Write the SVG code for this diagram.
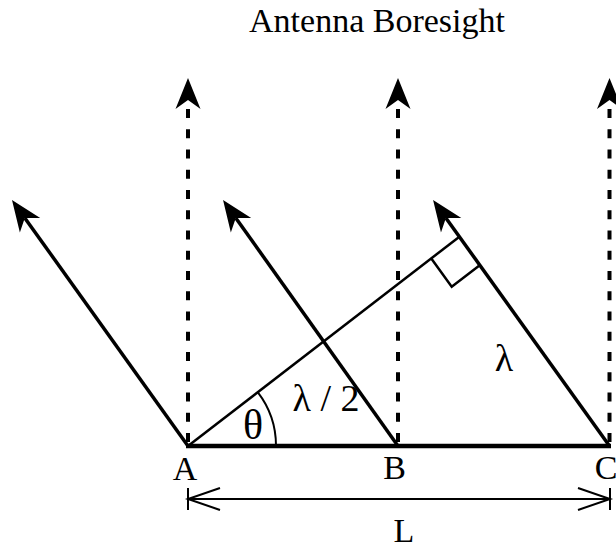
<svg xmlns="http://www.w3.org/2000/svg" width="616" height="550" viewBox="0 0 616 550">
<style>
  .lbl { font-family: "Liberation Serif", "Times New Roman", serif; font-size: 34px; fill: #000; text-anchor: middle; }
  .greek { font-family: "Liberation Serif", "Times New Roman", serif; font-size: 38px; fill: #000; text-anchor: middle; }
  .dash { stroke: #000; stroke-width: 4; stroke-dasharray: 9 11.25; fill: none; }
  .ray { stroke: #000; stroke-width: 3.5; fill: none; }
  .thin { stroke: #000; stroke-width: 2.5; fill: none; }
  .dim { stroke: #000; stroke-width: 2; fill: none; }
</style>
<defs>
  <marker id="head" markerUnits="userSpaceOnUse" markerWidth="60" markerHeight="60" refX="0" refY="0" orient="auto" overflow="visible" viewBox="-30 -30 60 60">
    <path d="M22,0 L-9,-12.5 L0,0 L-9,12.5 Z" fill="#000"/>
  </marker>
</defs>
<rect width="616" height="550" fill="#fff"/>
<g id="title">
  <text class="lbl" x="377" y="32">Antenna Boresight</text>
</g>
<g id="connectors">
  <line id="boresight-A" class="dash" x1="188" y1="442" x2="188" y2="100" marker-end="url(#head)"/>
  <line id="boresight-B" class="dash" x1="398" y1="442" x2="398" y2="100" marker-end="url(#head)"/>
  <line id="boresight-C" class="dash" x1="609.5" y1="442" x2="609.5" y2="100" marker-end="url(#head)"/>
  <line id="ray-A" class="ray" x1="188" y1="446" x2="24.8" y2="217.9" marker-end="url(#head)"/>
  <line id="ray-B" class="ray" x1="398" y1="446" x2="235.8" y2="217.9" marker-end="url(#head)"/>
  <line id="ray-C" class="ray" x1="609.5" y1="446" x2="445.9" y2="217.9" marker-end="url(#head)"/>
  <line id="wavefront" class="thin" x1="188" y1="446" x2="459.4" y2="236.7"/>
  <polyline id="right-angle" class="thin" points="431.3,258.4 451.7,286.8 479.4,265.4" stroke-width="2"/>
  <path id="theta-arc" class="dim" d="M276,446 A88,88 0 0,0 257.7,392.2"/>
  <line id="baseline" stroke="#000" stroke-width="4.5" x1="186" y1="446" x2="611" y2="446"/>
  <g id="dimension">
    <line class="dim" x1="188" y1="488" x2="188" y2="510"/>
    <line class="dim" x1="610" y1="488" x2="610" y2="510"/>
    <line class="dim" x1="188" y1="499" x2="610" y2="499"/>
    <polyline class="dim" points="220,488 188,499 220,510"/>
    <polyline class="dim" points="578,488 610,499 578,510"/>
  </g>
</g>
<g id="node-A"><text class="lbl" x="185" y="480">A</text></g>
<g id="node-B"><text class="lbl" x="394.5" y="479">B</text></g>
<g id="node-C"><text class="lbl" x="606" y="479">C</text></g>
<g id="label-L"><text class="lbl" x="404" y="542">L</text></g>
<g id="label-theta"><text class="greek" x="253" y="439" style="font-size:42px">θ</text></g>
<g id="label-half-lambda"><text class="greek" x="326" y="411">λ / 2</text></g>
<g id="label-lambda"><text class="greek" x="504" y="371">λ</text></g>
</svg>
